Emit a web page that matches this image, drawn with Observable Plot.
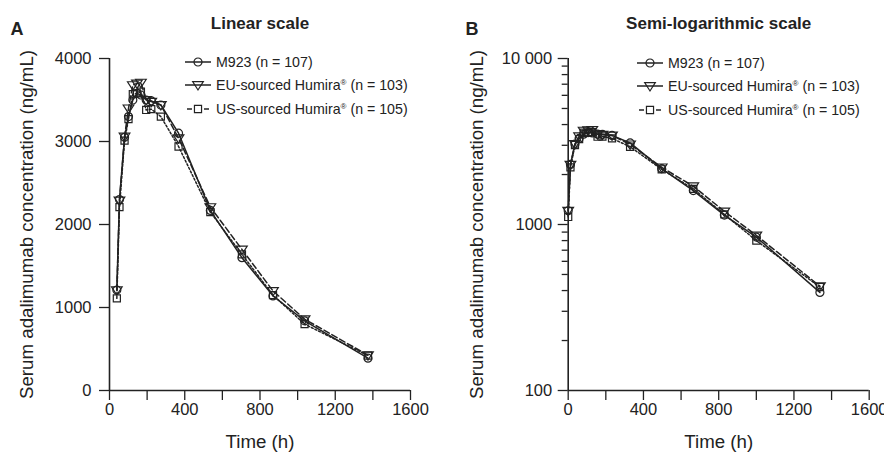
<!DOCTYPE html>
<html><head><meta charset="utf-8">
<script src="https://cdn.jsdelivr.net/npm/d3@7"></script>
<script src="https://cdn.jsdelivr.net/npm/@observablehq/plot@0.6"></script>
<style>
body{margin:0;background:#fff;}
#wrap{position:relative;width:884px;height:454px;overflow:hidden;font-family:"Liberation Sans",Arial,sans-serif;color:#222;}
#wrap svg.plot{position:absolute;top:0;}
.legend{position:absolute;font-size:14.2px;}
.legend .row{position:absolute;left:0;white-space:nowrap;height:20px;display:flex;align-items:center;}
.legend svg{display:block;}
.legend sup{font-size:8px;vertical-align:5px;}
</style></head><body><div id="wrap"></div>
<script>
// ---- data ----
const timesLinear = [39, 53, 80, 101, 124, 146, 167, 195, 222, 273, 367, 536, 704, 869, 1037, 1374];
const timesLog    = [0, 12, 36, 58, 82, 106, 128, 156, 182, 233, 329, 497, 665, 830, 1000, 1338];
const m923     = [1210, 2300, 3050, 3300, 3500, 3580, 3560, 3500, 3490, 3440, 3100, 2170, 1600, 1140, 840, 390];
const euHumira = [1210, 2290, 3060, 3400, 3680, 3700, 3710, 3500, 3480, 3440, 3040, 2210, 1700, 1200, 860, 425];
const usHumira = [1110, 2210, 3010, 3270, 3570, 3580, 3600, 3380, 3390, 3300, 2940, 2150, 1640, 1150, 800, 420];
const seriesNames = ["M923 (n = 107)", "EU-sourced Humira® (n = 103)", "US-sourced Humira® (n = 105)"];
const xTicks = [0, 400, 800, 1200, 1600];
const xMinorTicks = [200, 600, 1000, 1400];
const linearYTicks = [0, 1000, 2000, 3000, 4000];
const logYTicks = [100, 1000, 10000];
const logYTickLabels = ["100", "1000", "10 000"];
const logYMinorTicks = [200,300,400,500,600,700,800,900,2000,3000,4000,5000,6000,7000,8000,9000];
const panelTitles = ["Linear scale", "Semi-logarithmic scale"];
const panelLetters = ["A", "B"];
const yLabel = "Serum adalimumab concentration (ng/mL)";
const xLabel = "Time (h)";

// ---- styles ----
const INK = "#222";
const FONT = '"Liberation Sans", Arial, sans-serif';
const triangleDown = {
  draw(context, size) {
    const r = Math.sqrt(size / Math.PI);
    context.moveTo(-1.33 * r, -0.83 * r);
    context.lineTo(1.33 * r, -0.83 * r);
    context.lineTo(0, 1.25 * r);
    context.closePath();
  }
};
const seriesValues = [m923, euHumira, usHumira];
const seriesStyle = [
  {dash: null, symbol: "circle"},
  {dash: "6,3", symbol: triangleDown},
  {dash: "2,2", symbol: "square"}
];

function rowsFor(times, i) {
  return times.map((t, j) => ({t, c: seriesValues[i][j], series: seriesNames[i]}));
}

function seriesMarks(times) {
  const marks = [];
  seriesNames.forEach((name, i) => {
    const data = rowsFor(times, i);
    marks.push(Plot.line(data, {x: "t", y: "c", stroke: INK, strokeWidth: 1.5, strokeDasharray: seriesStyle[i].dash}));
  });
  seriesNames.forEach((name, i) => {
    const data = rowsFor(times, i);
    marks.push(Plot.dot(data, {x: "t", y: "c", symbol: () => seriesStyle[i].symbol, r: 4, stroke: INK, strokeWidth: 1.2, fill: "none"}));
  });
  return marks;
}

function makePanel(opts) {
  return Plot.plot({
    width: 442, height: 454,
    marginLeft: opts.marginLeft, marginRight: opts.marginRight, marginTop: 58, marginBottom: 64,
    style: {fontFamily: FONT, color: INK, background: "transparent", overflow: "visible"},
    x: {domain: [0, 1600]},
    y: opts.y,
    symbol: {type: "identity"},
    marks: [
      Plot.axisX({ticks: xTicks, tickSize: 10, tickPadding: 3, fontSize: 16.5, label: null, stroke: INK, strokeWidth: 1.3, tickFormat: d => String(d)}),
      Plot.axisX({ticks: xMinorTicks, tickSize: 10, tickFormat: () => "", label: null, stroke: INK, strokeWidth: 1.3}),
      ...opts.yAxes,
      Plot.ruleX([0], {stroke: INK, strokeWidth: 1.6}),
      Plot.ruleY([opts.yBase], {stroke: INK, strokeWidth: 1.6}),
      ...seriesMarks(opts.times),
      Plot.text([xLabel], {frameAnchor: "bottom", lineAnchor: "middle", dy: 52, fontSize: 18.7, fill: INK}),
      Plot.text([yLabel], {frameAnchor: "left", textAnchor: "middle", lineAnchor: "middle", rotate: -90, dx: -opts.yLabelOffset, fontSize: 18.7, fill: INK}),
      Plot.text([opts.title], {frameAnchor: "top", lineAnchor: "middle", dy: -35, fontSize: 17, fontWeight: "bold", fill: INK}),
      Plot.text([opts.letter], {frameAnchor: "top-left", dx: -(opts.marginLeft - opts.letterX), dy: -29.5, textAnchor: "start", lineAnchor: "middle", fontSize: 18, fontWeight: "bold", fill: INK})
    ]
  });
}

const wrap = document.getElementById("wrap");

const panelA = makePanel({
  marginLeft: 109, marginRight: 32, times: timesLinear,
  y: {domain: [0, 4000]}, yBase: 0, yLabelOffset: 82.6,
  title: panelTitles[0], letter: panelLetters[0], letterX: 10,
  yAxes: [Plot.axisY({ticks: linearYTicks, tickSize: 10, tickPadding: 8, fontSize: 16.5, label: null, stroke: INK, strokeWidth: 1.3, tickFormat: d => String(d)})]
});
panelA.classList.add("plot");
panelA.style.left = "0px";
wrap.appendChild(panelA);

const panelB = makePanel({
  marginLeft: 125.7, marginRight: 15.3, times: timesLog,
  y: {type: "log", domain: [100, 10000]}, yBase: 100, yLabelOffset: 90.7,
  title: panelTitles[1], letter: panelLetters[1], letterX: 23,
  yAxes: [
    Plot.axisY({ticks: logYTicks, tickSize: 10, tickPadding: 6, fontSize: 16.5, label: null, stroke: INK, strokeWidth: 1.3,
      tickFormat: d => logYTickLabels[logYTicks.indexOf(d)]}),
    Plot.axisY({ticks: logYMinorTicks, tickSize: 6, tickFormat: () => "", label: null, stroke: INK, strokeWidth: 1.3})
  ]
});
panelB.classList.add("plot");
panelB.style.left = "442px";
wrap.appendChild(panelB);

// ---- legends ----
function legend(left, top) {
  const div = document.createElement("div");
  div.className = "legend";
  div.style.left = left + "px";
  div.style.top = top + "px";
  seriesNames.forEach((name, i) => {
    const row = document.createElement("div");
    row.className = "row";
    row.style.top = (i * 23.3) + "px";
    const svg = d3.create("svg").attr("width", 31).attr("height", 20);
    const st = seriesStyle[i];
    if (i === 2) {
      svg.append("line").attr("x1", 2).attr("x2", 7).attr("y1", 10).attr("y2", 10).attr("stroke", INK).attr("stroke-width", 1.5);
      svg.append("line").attr("x1", 19).attr("x2", 24).attr("y1", 10).attr("y2", 10).attr("stroke", INK).attr("stroke-width", 1.5);
    } else {
      svg.append("line").attr("x1", 0).attr("x2", 26).attr("y1", 10).attr("y2", 10).attr("stroke", INK).attr("stroke-width", 1.5);
    }
    const sym = st.symbol === "circle" ? d3.symbolCircle : st.symbol === "square" ? d3.symbolSquare : st.symbol;
    svg.append("path").attr("transform", "translate(13,10)")
      .attr("d", d3.symbol(sym, Math.PI * 16)())
      .attr("fill", "none").attr("stroke", INK).attr("stroke-width", 1.2);
    row.appendChild(svg.node());
    const span = document.createElement("span");
    span.innerHTML = name.replace("®", "<sup>®</sup>");
    row.appendChild(span);
    div.appendChild(row);
  });
  wrap.appendChild(div);
}
legend(185, 52);
legend(637, 53);
</script>
</body></html>
